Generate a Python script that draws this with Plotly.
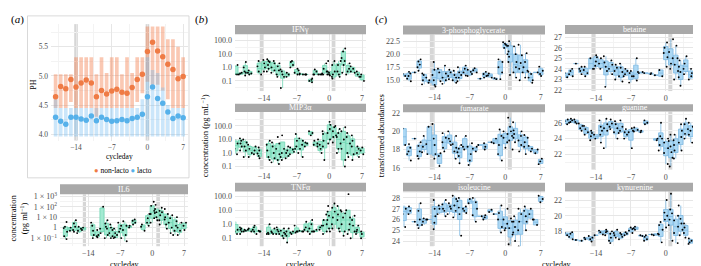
import plotly.graph_objects as go

W, H = 701, 266
FONT = "Liberation Serif"

# ---------------- data ----------------
PH_DAYS = [-18, -17, -16, -15, -14, -13, -12, -11, -10, -9, -8, -7, -6,
           -5, -4, -3, -2, -1, 0, 1, 2, 3, 4, 5, 6, 7]
NL_MEAN = [4.64, 4.82, 4.78, 4.94, 4.81, 4.88, 4.93, 4.88, 4.64, 4.75, 4.69, 4.74, 4.77,
           4.72, 4.70, 4.80, 4.94, 5.03, 5.42, 5.58, 5.43, 5.33, 5.20, 5.11, 4.95, 4.99]
NL_HIGH = [5.03, 5.03, 5.03, 5.03, 5.32, 5.32, 5.32, 5.32, 5.03, 5.32, 5.05, 5.32, 5.32,
           5.03, 5.32, 5.05, 5.32, 5.32, 5.85, 5.85, 5.85, 5.85, 5.63, 5.63, 5.50, 5.32]
NL_LOW = [4.45, 4.45, 4.45, 4.55, 4.45, 4.45, 4.45, 4.45, 4.30, 4.45, 4.45, 4.45, 4.45,
          4.45, 4.45, 4.45, 4.55, 4.70, 4.90, 4.85, 4.85, 4.75, 4.60, 4.45, 4.45, 4.45]
L_MEAN = [4.29, 4.22, 4.17, 4.29, 4.29, 4.26, 4.24, 4.31, 4.23, 4.29, 4.25, 4.22, 4.23,
          4.25, 4.23, 4.27, 4.29, 4.34, 4.64, 4.81, 4.61, 4.53, 4.38, 4.27, 4.31, 4.28]
L_HIGH = [4.60, 4.45, 4.45, 4.45, 4.45, 4.45, 4.45, 4.45, 4.45, 4.45, 4.45, 4.45, 4.45,
          4.45, 4.45, 4.45, 4.45, 4.60, 5.32, 5.10, 5.05, 4.80, 4.50, 4.45, 4.45, 4.45]
L_LOW = [3.96, 3.96, 3.96, 3.96, 3.96, 3.96, 3.96, 3.96, 3.96, 3.96, 3.96, 3.96, 3.96,
         3.96, 3.96, 3.96, 3.96, 3.96, 3.96, 3.96, 3.96, 3.96, 3.96, 3.96, 3.96, 3.96]

DAYS = [-20, -19, -18, -17, -16, -15, -14, -13, -12, -11, -10, -9, -8, -7,
        -6, -5, -4, -3, -2, -1, 0, 1, 2, 3, 4, 5, 6, 7]

IL6 = [[], [0.15, 0.4, 1.2, 3.5, 0.08, 0.9], [0.5, 1.0], [0.6, 1.2, 2.5, 5, 0.4],
       [0.5, 0.8, 1.2, 0.3], [0.6, 1.0], [], [0.2, 0.5, 1.5, 3.0, 0.1],
       [0.12, 0.15, 0.2, 0.6], [0.3, 0.8, 100], [0.2, 0.8, 2.5, 5, 0.1, 1.2],
       [0.15, 0.3, 0.6, 2, 0.1, 1.0], [0.12, 0.2, 0.3, 0.8, 0.1], [0.4, 0.8, 1.5, 3, 0.1],
       [0.05, 0.2, 0.6, 1.5, 4], [1.0, 1.5], [3, 4.5, 6, 2], [], [0.5, 1.2, 2], [1.5, 3, 8, 20],
       [8, 20, 40, 120, 300, 3], [10, 30, 60, 150, 25, 5], [5, 15, 30, 80, 2, 40],
       [2, 6, 20, 60, 0.8, 10], [1, 3, 8, 15, 0.3], [0.5, 1.5, 4, 10, 0.2],
       [0.5, 1, 3, 0.2], [0.6, 1.5, 3]]

IFNG = [[0.3, 0.3, 1.5], [0.4, 0.3, 0.35], [0.5, 1.0, 2.5, 0.4, 0.25], [0.3, 0.35, 0.4, 0.6],
        [], [0.5, 1.2, 3, 0.3], [1, 2, 3.5, 0.5], [0.8, 1.5, 3, 4, 0.5, 2.5],
        [0.6, 1, 2, 3, 0.4], [0.3, 0.6, 1.2, 2, 0.2], [0.3, 0.5, 0.7, 0.2, 0.03],
        [0.2, 0.3, 0.4], [1.0, 1.5, 2.5, 3], [0.4, 0.6, 0.8, 0.3],
        [0.3, 0.3, 0.35], [0.3, 0.3, 0.3], [0.08, 0.12, 0.15, 0.1], [0.3, 0.5, 0.7, 0.3],
        [0.3, 0.3, 0.35, 0.3], [0.3, 0.5, 0.8, 2], [0.3, 0.3, 0.4, 0.5, 0.25, 3],
        [0.2, 0.3, 0.5, 1.5, 0.15, 3], [0.3, 0.5, 1.5, 3, 0.2], [0.4, 1.5, 5, 15, 25, 3],
        [0.3, 0.8, 2, 0.5], [0.5, 0.8, 1.2, 0.4], [0.2, 0.3, 0.5], [0.1, 0.2, 0.3]]

MIP3A = [[2, 5, 10, 0.8], [3, 5, 8, 12, 1.5], [1.5, 3, 6, 10, 0.5], [1, 2, 0.5, 4],
         [0.8, 1.5, 3], [0.6, 0.9, 1.5, 2.5, 0.4], [], [0.5, 1.5, 4, 8, 0.3],
         [0.4, 1, 3, 6, 0.2], [0.3, 0.8, 2, 5, 0.15, 15], [0.5, 1, 2, 0.3, 20],
         [0.4, 1, 1.5, 3, 0.6], [0.8, 1.2, 1.8, 2.5], [1, 2, 3, 8, 25],
         [2, 4, 8, 12, 0.5], [3, 5, 6], [20, 30, 40], [3, 5, 8, 4], [2, 4, 10, 1],
         [3, 8, 25, 40, 0.3], [10, 30, 60, 120, 200, 5], [15, 40, 80, 100, 20, 6],
         [5, 15, 30, 60, 2, 1], [0.3, 2, 10, 40, 0.1, 80], [1, 5, 15, 30, 0.5],
         [0.8, 3, 8, 20, 0.3], [0.5, 1, 2, 3], [0.8, 1.5, 2.5]]

TNFA = [[0.3, 0.4, 1.5, 0.2], [0.2, 0.3, 0.5, 0.6, 0.4], [0.3, 0.35, 0.4], [0.4, 0.3, 0.5],
        [0.2, 0.3, 0.4, 0.6, 0.8], [0.3, 0.3, 0.35], [], [0.2, 0.25, 0.2, 1.0],
        [0.2, 0.25, 0.3, 0.5], [0.2, 0.3, 0.4, 0.6, 0.2], [0.15, 0.25, 0.35, 0.5, 0.1],
        [0.15, 0.2, 0.3, 0.5, 0.05], [0.2, 0.25, 0.3], [0.25, 0.3, 0.3, 0.8],
        [0.3, 0.3, 0.35], [0.3, 0.4, 0.6, 1.5], [0.3, 0.5, 1, 2, 0.2], [0.3, 0.3, 0.4],
        [0.4, 0.6, 0.8], [0.3, 0.8, 2, 5, 0.2, 1], [0.5, 2, 8, 20, 0.3, 4],
        [1, 3, 8, 15, 0.5, 30], [0.5, 2, 5, 10, 0.3, 20], [0.3, 1, 3, 8, 0.15, 6],
        [0.4, 1, 3, 10, 140, 0.2], [0.3, 0.8, 2, 4, 0.1], [0.2, 0.4, 0.8, 0.3], [0.1, 0.2, 0.3]]

PGA3 = [[15.8, 16.2], [15.3, 15.8, 16.3, 16.6, 14.8], [16.5], [17.5, 18, 18.6, 19, 16.8],
        [15, 15.5, 16, 16.3, 14.2], [14.5, 15], [14.1, 15, 16, 17, 18.5, 13.8],
        [16.5, 17.2, 14.8], [15, 15.5, 16.3, 17.8, 14.3], [15.2, 15.8, 16.5, 17],
        [15, 15.5, 16, 16.8, 14.5], [15.5, 16, 16.5, 17.5, 14.8], [15.9, 16.5, 17.2, 17.8],
        [16.2, 16.6, 17, 15.8], [16.5, 16.9, 17.3], [15.3], [15.8, 16.2, 16.6, 15.5],
        [15.5, 15.9, 16.3], [15.2, 15.4], [16.5, 17.5, 18.5, 19, 15.2],
        [21.2, 21.6, 22, 22.3, 21.8, 20], [18.5, 19.5, 20.5, 21.6, 22.5, 16],
        [16.5, 17.5, 18.5, 20, 21.5, 15.5], [16.5, 17.2, 18.3, 19.8, 21.8, 15],
        [16.8, 17.5, 18.5, 20.2, 15.5], [15, 15.5, 16.2, 16.6, 14.5], [16.5],
        [16.2, 16.8, 17.6, 15.8]]

FUMARATE = [[18.5, 20.3], [17.5, 17.8, 18.2, 18.6, 16.8], [19.2], [17.3, 17.8, 18.4, 18.8, 17],
            [17.7, 18.3, 18.6, 19.5], [17.5, 20.5], [17, 17.5, 18.5, 19.2, 20.8],
            [17.3, 17.6, 16.2], [18.2, 18.8, 19.3, 19.8, 17.8], [18.5, 18.9, 19.2, 20],
            [17.8, 18.2, 18.6, 19.5, 17], [17.3, 17.7, 18.1, 18.5, 16.5], [18, 18.3, 19.5],
            [16.8, 17.5, 18.3, 18.7, 16.3], [17.8, 18.1, 18.3], [18.5], [18, 18.3, 18.7],
            [18.8], [18.7, 19.2], [17.5, 18.5, 19.5, 20.2, 16.8], [18.8, 19.3, 19.7, 20, 18.2],
            [19, 19.5, 20, 20.5, 21.5, 18], [18.8, 19.3, 19.7, 20.1, 21],
            [18.5, 19, 19.5, 20, 17.8], [18.3, 18.8, 19.3, 19.6, 17.5], [17.8, 18.1, 18.4],
            [17.6, 18], [16.4, 16.7, 17]]

ISOLEUCINE = [[26.5, 27, 27.3, 25.3], [26.5, 26.8, 27.2], [25.8], [25.5, 26, 26.8, 27.5, 25.2],
              [25.8, 26, 26.1, 25.5], [26], [25.7, 26.3, 27, 27.8, 25.1], [26.5, 27, 27.3],
              [26.8, 27, 27.4, 27.8, 26.3], [26.5, 27, 27.5, 27.2],
              [26.8, 27.3, 27.9, 28.2, 26.2], [26.5, 27.1, 27.7, 28, 24.5],
              [26.6, 26.8, 27, 27.2], [27.5, 27.9], [26.4, 27, 27.6, 28, 25.8], [26.3],
              [26, 26.2, 26.4], [26.7, 26.9], [26.5], [25.3, 26, 26.6, 27.3, 24.8],
              [25.2, 25.6, 26, 27, 25], [24.6, 25.2, 25.8, 26.1, 23.7],
              [24.8, 25.3, 25.8, 26.3, 24], [25, 25.8, 26.5, 27, 23.5],
              [25.8, 26.3, 26.8, 27.2, 25], [26, 26.5, 27], [25.5, 26], [27.6, 27.9, 28.2]]

BETAINE = [[23.2, 23.6], [23.3, 23.5, 23.8, 24], [24.5], [23.8, 24, 24.2, 23.5],
           [23.6, 23.9, 24.2, 23.3], [24, 25], [24.3, 24.7, 25.1, 25.3, 24], [24, 24.5, 25],
           [23.8, 24.2, 24.6, 25.2, 22.3], [23.5, 24, 24.4, 24.8], [23.8, 24.1, 24.4, 23],
           [23.3, 23.7, 24.1, 24.5, 22.8], [23.3, 23.5, 23.8, 24], [23.3, 23.6, 23.8, 22.7],
           [22.9, 23.3, 23.7, 25], [23.6, 23.7], [23.6], [23.5, 23.6], [23.4], [23.3, 23.9],
           [25.1, 25.5, 26, 26.5, 24.2], [24.5, 25, 25.6, 26.8, 24], [23.8, 24.4, 25, 26.2, 23],
           [23.2, 23.7, 24.2, 24.8, 22.4], [23.5, 24, 24.5, 25.2], [23, 23.3, 23.6, 24],
           [23.3, 23.5, 23.7], [23.4, 23.6]]

GUANINE = [[26.2, 26.4, 25.8], [26, 26.3, 26.5, 26.1], [25.9, 26.1, 26.4], [25.3, 25.6, 25.9, 25],
           [24.8, 25.2, 25.6, 24.5], [24.3, 24.7, 25, 23.8], [24, 24.5],
           [24.5, 25, 25.5, 26.3, 23.5], [25, 25.3, 25.8, 26.5, 22.8], [25.2, 25.5, 25.9, 26.4],
           [24.8, 25.3, 25.8, 26.2, 24], [24.7, 25, 25.5, 26.3], [24.5, 24.8, 25.2, 24],
           [24.8, 25, 25.3, 22.8], [24.9, 25.1, 25.4], [24.8, 25], [25.8, 26, 26.3], [],
           [23.8, 24], [22.5, 23.2, 24, 24.3, 26], [22.2, 22.8, 23.5, 24, 20.8],
           [21.6, 22.3, 23, 23.7, 20.5, 24.5], [22.5, 23.2, 23.8, 24.5, 21.5],
           [23.5, 24.2, 25, 25.8, 22.5], [24, 24.6, 25.2, 25.8, 26.5],
           [24.5, 25, 25.5, 26, 23.5], [25.2, 25.5, 25.8], [25.4, 25.6]]

KYNURENINE = [[17.5, 17.8], [17, 17.3, 17.7, 17.9], [16.9], [16.8], [17, 17.2],
              [16.7, 17, 17.2, 17.4], [17.5], [17.6, 17.9, 18.1], [17.5, 17.9, 18.2, 18],
              [16.8, 17.2, 17.7, 18, 16.5], [17.2, 17.5, 17.8, 18.2], [17.3, 17.6, 17.8, 17],
              [17.5, 17.7, 17.9], [17.8, 18.1, 18.3, 18.5], [18.2, 18.4, 18.6], [17.4, 17.5],
              [16.8, 17, 17.3, 17.5], [17.6], [17.5, 17.7], [17.6, 18.2, 18.8, 19.2, 16.6],
              [19.5, 20, 20.4, 22, 18.5], [18.8, 19.5, 20.3, 20.8, 22.8, 16.8],
              [17.8, 18.6, 19.4, 20, 16.5], [17.5, 18.2, 19, 19.6, 21.3], [17.2, 17.8, 18.5, 19],
              [16.6, 16.8, 17.1, 16.4], [17.8, 18.1, 18.4, 19], [18]]

X_TICKS = [-14, -7, 0, 7]
X_TICKTEXT = ["\u221214", "\u22127", "0", "7"]

# ---------------- helpers ----------------
def xd(l, r):
    return [l / W, r / W]

def yd(t, b):
    return [1 - b / H, 1 - t / H]

GRID = "#e6e6e6"
MINOR = "#f3f3f3"

fig = go.Figure()
layout = dict()
shapes = []
annotations = []

def add_axes(n, xdom, ydom, xrange, yrange, ytickvals, yticktext, ylog=False, fs=8):
    sx = "" if n == 1 else str(n)
    tf = dict(family=FONT, size=fs, color="#4d4d4d")
    if ylog:
        yminor = [v * 3.1623 for v in ytickvals] + [ytickvals[0] / 3.1623]
    else:
        step = ytickvals[1] - ytickvals[0]
        yminor = [v + step / 2 for v in ytickvals] + [ytickvals[0] - step / 2]
    layout["xaxis" + sx] = dict(
        domain=xd(*xdom), range=xrange, anchor="y" + sx, tickvals=X_TICKS,
        ticktext=X_TICKTEXT, showgrid=True, gridcolor=GRID, gridwidth=0.7,
        minor=dict(tickvals=[-17.5, -10.5, -3.5, 3.5], showgrid=True, gridcolor=MINOR, gridwidth=0.5),
        zeroline=False, showline=False, ticks="", tickfont=tf, ticklabelstandoff=1)
    layout["yaxis" + sx] = dict(
        domain=yd(*ydom), range=yrange, anchor="x" + sx, type="log" if ylog else "linear",
        tickvals=ytickvals, ticktext=yticktext, showgrid=True, gridcolor=GRID, gridwidth=0.7,
        minor=dict(tickvals=yminor, showgrid=True, gridcolor=MINOR, gridwidth=0.5),
        zeroline=False, showline=False, ticks="", tickfont=tf, ticklabelstandoff=2)

def band(n, x0, x1):
    sx = "" if n == 1 else str(n)
    shapes.append(dict(type="rect", xref="x" + sx, yref="y" + sx + " domain", x0=x0, x1=x1,
                       y0=0, y1=1, fillcolor="#d6d6d6", line=dict(width=0), layer="below"))

def strip(label, xdom, top, bottom):
    shapes.append(dict(type="rect", xref="paper", yref="paper", x0=xdom[0] / W, x1=xdom[1] / W,
                       y0=1 - bottom / H, y1=1 - top / H, fillcolor="#a9a9a9",
                       line=dict(width=0)))
    annotations.append(dict(text=label, xref="paper", yref="paper",
                            x=(xdom[0] + xdom[1]) / 2 / W, y=1 - (top + bottom) / 2 / H,
                            showarrow=False, font=dict(family=FONT, size=8, color="white"),
                            xanchor="center", yanchor="middle", borderpad=0))

def text(t, x, y, size=8.5, angle=0, color="black"):
    annotations.append(dict(text=t, xref="paper", yref="paper", x=x / W, y=1 - y / H,
                            showarrow=False, textangle=angle, borderpad=0,
                            font=dict(family=FONT, size=size, color=color),
                            xanchor="center", yanchor="middle"))

def add_box(n, vals, fill, linec):
    sx = "" if n == 1 else str(n)
    assert len(vals) == len(DAYS)
    xs, ys = [], []
    for d, vs in zip(DAYS, vals):
        for v in vs:
            xs.append(d)
            ys.append(v)
    fig.add_trace(go.Box(x=xs, y=ys, xaxis="x" + sx, yaxis="y" + sx, boxpoints="all",
                         jitter=1.0, pointpos=0, width=0.9, whiskerwidth=0,
                         fillcolor=fill, line=dict(color=linec, width=0.8),
                         marker=dict(color="black", size=1.9), showlegend=False,
                         hoverinfo="skip"))

# ---------------- panel (a) PH ----------------
add_axes(1, (43, 180), (12.5, 132.5), [-18.9, 7.95], [3.89, 5.89],
         [4.0, 4.5, 5.0, 5.5], ["4.0", "4.5", "5.0", "5.5"], fs=7.5)
band(1, -14.35, -13.65)
band(1, -0.35, 0.35)
fig.add_trace(go.Bar(x=PH_DAYS, y=[h - l for h, l in zip(NL_HIGH, NL_LOW)], base=NL_LOW,
                     width=0.72, marker=dict(color="rgba(242,125,75,0.42)", line=dict(width=0)),
                     xaxis="x", yaxis="y", showlegend=False, hoverinfo="skip"))
fig.add_trace(go.Bar(x=PH_DAYS, y=[h - l for h, l in zip(L_HIGH, L_LOW)], base=L_LOW,
                     width=0.72, marker=dict(color="rgba(110,185,240,0.36)", line=dict(width=0)),
                     xaxis="x", yaxis="y", showlegend=False, hoverinfo="skip"))
fig.add_trace(go.Scatter(x=PH_DAYS, y=NL_MEAN, mode="markers", name="non-lacto",
                         marker=dict(color="#EF7B45", size=5.5), xaxis="x", yaxis="y",
                         showlegend=False))
fig.add_trace(go.Scatter(x=PH_DAYS, y=L_MEAN, mode="markers", name="lacto",
                         marker=dict(color="#56B1EA", size=5.5), xaxis="x", yaxis="y",
                         showlegend=False))
text("PH", 26, 75, size=8, angle=-90)
text("cycleday", 111, 149, size=7.5)
text('<span style="color:#EF7B45">\u25cf</span> non-lacto <span style="color:#56B1EA">\u25cf</span> lacto',
     115, 163, size=7.5)
shapes.append(dict(type="rect", xref="paper", yref="paper", x0=19.5 / W, x1=181 / W,
                   y0=1 - 171 / H, y1=1 - 4 / H, line=dict(color="#cfcfcf", width=0.8),
                   fillcolor="rgba(0,0,0,0)"))

# ---------------- IL6 ----------------
XR = [-20.2, 7.85]
add_axes(2, (52, 180), (188, 241.5), XR, [-1.78, 3.18], [0.1, 1, 10, 100, 1000],
         ["1 \u00d7 10<sup>\u22121</sup>", "1", "1 \u00d7 10", "1 \u00d7 10<sup>2</sup>",
          "1 \u00d7 10<sup>3</sup>"], ylog=True)
strip("IL6", (52, 180), 177.5, 188)
band(2, -15.2, -14.5)
band(2, 0.9, 1.7)
add_box(2, IL6, "#a3ead2", "#6fd6b3")
text("concentration<br>(pg ml<sup>\u22121</sup>)", 11, 213, size=8.5, angle=-90)
text("cycleday", 116, 260.5, size=8)

# ---------------- panel (b) ----------------
BX = (227, 358)
CYT = [
    (3, "IFN\u03b3", IFNG, (13.3, 23), (23, 81.5), [-1.75, 2.45]),
    (4, "MIP3\u03b1", MIP3A, (94.7, 103), (103, 162), [-1.2, 3.04]),
    (5, "TNF\u03b1", TNFA, (176, 185), (185, 241.5), [-1.57, 2.34]),
]
for n, lab, vals, sdom, pdom, yr in CYT:
    add_axes(n, BX, pdom, XR, yr, [0.1, 1, 10, 100], ["0.1", "1.0", "10.0", "100.0"], ylog=True)
    strip(lab, BX, *sdom)
    band(n, -14.9, -14.1)
    band(n, 0.5, 1.3)
    add_box(n, vals, "#a3ead2", "#6fd6b3")
text("concentration (pg mL<sup>\u22121</sup>)", 197, 128, size=8.5, angle=-90)
text("cycleday", 292, 260.5, size=8)

# ---------------- panel (c) ----------------
CL = (395, 537)
CR = (557, 697)
MET = [
    (6, "3-phosphoglycerate", PGA3, CL, (14, 23.3), (23.3, 80.5), [13.1, 23.76],
     [15, 17.5, 20, 22.5], ["15.0", "17.5", "20.0", "22.5"]),
    (7, "fumarate", FUMARATE, CL, (95, 103.3), (103.3, 162.5), [15.8, 22.1],
     [16, 18, 20, 22], ["16", "18", "20", "22"]),
    (8, "isoleucine", ISOLEUCINE, CL, (176, 185), (185, 241.5), [23.52, 28.6],
     [24, 25, 26, 27, 28], ["24", "25", "26", "27", "28"]),
    (9, "betaine", BETAINE, CR, (13.3, 22.7), (22.7, 81.5), [21.9, 27.3],
     [22, 23, 24, 25, 26, 27], ["22", "23", "24", "25", "26", "27"]),
    (10, "guanine", GUANINE, CR, (95, 102.7), (102.7, 162.5), [20.1, 27.4],
     [22, 24, 26], ["22", "24", "26"]),
    (11, "kynurenine", KYNURENINE, CR, (176, 185), (185, 241.5), [16.1, 23.1],
     [18, 20, 22], ["18", "20", "22"]),
]
for n, lab, vals, xdom, sdom, pdom, yr, tv, tt in MET:
    add_axes(n, xdom, pdom, XR, yr, tv, tt)
    strip(lab, xdom, *sdom)
    band(n, -14.9, -14.1)
    band(n, 0.5, 1.3)
    add_box(n, vals, "#acd8f4", "#7db9e2")
text("transformed abundances", 373, 128, size=8.5, angle=-90)
text("cycleday", 548, 260.5, size=8)

# panel labels
text("(<i>a</i>)", 9, 8, size=11)
text("(<i>b</i>)", 193, 8, size=11)
text("(<i>c</i>)", 373, 8, size=11)

fig.update_layout(**layout)
fig.update_layout(width=W, height=H, margin=dict(l=0, r=0, t=0, b=0),
                  paper_bgcolor="white", plot_bgcolor="white", barmode="overlay",
                  boxmode="overlay", shapes=shapes, annotations=annotations,
                  font=dict(family=FONT, size=8), showlegend=False)
fig.write_html("out.html")
